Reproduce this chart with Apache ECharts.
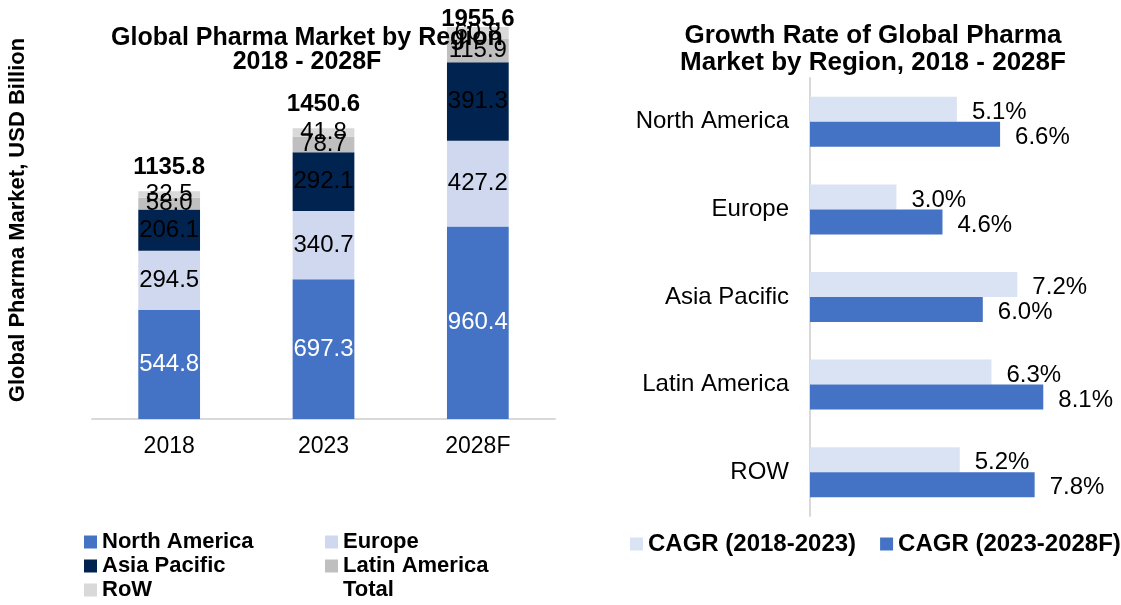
<!DOCTYPE html>
<html>
<head>
<meta charset="utf-8">
<script src="https://cdn.jsdelivr.net/npm/echarts@6/dist/echarts.min.js"></script>
<style>
html, body { margin: 0; padding: 0; background: #fff; }
#chart { width: 1121px; height: 605px; }
</style>
</head>
<body>
<div id="chart"></div>
<script>
// left chart: market size, USD billion
var years = ['2018', '2023', '2028F'];
var northAmerica = [544.8, 697.3, 960.4];
var europe = [294.5, 340.7, 427.2];
var asiaPacific = [206.1, 292.1, 391.3];
var latinAmerica = [58.0, 78.7, 115.9];
var restOfWorld = [32.5, 41.8, 60.8];
var totals = [1135.8, 1450.6, 1955.6];

// right chart: growth rate, %
var regions = ['North America', 'Europe', 'Asia Pacific', 'Latin America', 'ROW'];
var cagr2018to2023 = [5.1, 3.0, 7.2, 6.3, 5.2];
var cagr2023to2028 = [6.6, 4.6, 6.0, 8.1, 7.8];

var font = '"Liberation Sans", Arial, sans-serif';

function stackSeries(name, values, color, labelColor) {
    return {
        name: name,
        type: 'bar',
        stack: 'market',
        xAxisIndex: 0,
        yAxisIndex: 0,
        barWidth: '40%',
        data: values,
        itemStyle: { color: color },
        label: {
            show: true,
            position: 'inside',
            color: labelColor,
            fontSize: 24,
            fontFamily: font,
            formatter: function (p) { return p.value.toFixed(1); }
        }
    };
}

function cagrSeries(name, values, color) {
    return {
        name: name,
        type: 'bar',
        xAxisIndex: 1,
        yAxisIndex: 1,
        barWidth: 25,
        barGap: '0%',
        data: values,
        itemStyle: { color: color },
        label: {
            show: true,
            position: 'right',
            distance: 15,
            offset: [0, 3],
            color: '#000',
            fontSize: 24,
            fontFamily: font,
            formatter: function (p) { return p.value.toFixed(1) + '%'; }
        }
    };
}

var myChart = echarts.init(document.getElementById('chart'));

var option = {
    animation: false,
    textStyle: { fontFamily: font },
    title: [{
        text: 'Global Pharma Market by Region\n2018 - 2028F',
        left: 302,
        top: 21,
        textAlign: 'center',
        textStyle: { fontSize: 25, fontWeight: 'bold', color: '#000', lineHeight: 24, fontFamily: font }
    }, {
        text: 'Growth Rate of Global Pharma\nMarket by Region, 2018 - 2028F',
        left: 868,
        top: 17,
        textAlign: 'center',
        textStyle: { fontSize: 26, fontWeight: 'bold', color: '#000', lineHeight: 27, fontFamily: font }
    }],
    graphic: [{
        type: 'text',
        x: 18,
        y: 220,
        rotation: Math.PI / 2,
        style: {
            text: 'Global Pharma Market, USD Billion',
            fontSize: 22,
            fontWeight: 'bold',
            fontFamily: font,
            fill: '#000',
            align: 'center',
            verticalAlign: 'middle'
        }
    }],
    legend: [{
        orient: 'vertical',
        left: 84,
        top: 531,
        padding: 0,
        itemGap: 2,
        itemWidth: 13,
        itemHeight: 13,
        icon: 'rect',
        data: ['North America', 'Asia Pacific', 'RoW'],
        textStyle: { fontSize: 22, fontWeight: 'bold', color: '#000', lineHeight: 22 }
    }, {
        orient: 'vertical',
        left: 325,
        top: 531,
        padding: 0,
        itemGap: 2,
        itemWidth: 13,
        itemHeight: 13,
        icon: 'rect',
        data: ['Europe', 'Latin America', { name: 'Total', itemStyle: { opacity: 0 } }],
        textStyle: { fontSize: 22, fontWeight: 'bold', color: '#000', lineHeight: 22 }
    }, {
        orient: 'horizontal',
        left: 630,
        top: 532,
        padding: 0,
        itemGap: 24,
        itemWidth: 13,
        itemHeight: 13,
        icon: 'rect',
        data: ['CAGR (2018-2023)', 'CAGR (2023-2028F)'],
        textStyle: { fontSize: 24, fontWeight: 'bold', color: '#000', lineHeight: 24 }
    }],
    grid: [{
        left: 92,
        top: 18,
        width: 463,
        height: 401
    }, {
        left: 810,
        top: 78,
        width: 288,
        height: 438
    }],
    xAxis: [{
        gridIndex: 0,
        type: 'category',
        data: years,
        axisTick: { show: false },
        axisLine: { lineStyle: { color: '#D9D9D9', width: 2 } },
        axisLabel: { color: '#000', fontSize: 23, margin: 16 }
    }, {
        gridIndex: 1,
        type: 'value',
        min: 0,
        max: 10,
        show: false
    }],
    yAxis: [{
        gridIndex: 0,
        type: 'value',
        min: 0,
        max: 2000,
        show: false
    }, {
        gridIndex: 1,
        type: 'category',
        inverse: true,
        data: regions,
        axisTick: { show: false },
        axisLine: { lineStyle: { color: '#D9D9D9', width: 2 } },
        axisLabel: { color: '#000', fontSize: 24, margin: 21 }
    }],
    series: [
        stackSeries('North America', northAmerica, '#4472C4', '#fff'),
        stackSeries('Europe', europe, '#CFD8EE', '#000'),
        stackSeries('Asia Pacific', asiaPacific, '#002350', '#000'),
        stackSeries('Latin America', latinAmerica, '#BFBFBF', '#000'),
        stackSeries('RoW', restOfWorld, '#D9D9D9', '#000'),
        {
            name: 'Total',
            type: 'scatter',
            xAxisIndex: 0,
            yAxisIndex: 0,
            symbolSize: 1,
            itemStyle: { color: 'transparent', opacity: 1 },
            data: totals.map(function (v, i) {
                // last total sits close to the top edge, pull it down like the original
                return i === totals.length - 1 ? { value: v, label: { distance: -5 } } : v;
            }),
            label: {
                show: true,
                position: 'top',
                distance: 11,
                color: '#000',
                opacity: 1,
                fontSize: 24,
                fontWeight: 'bold',
                fontFamily: font,
                formatter: function (p) { return p.value.toFixed(1); }
            },
            z: 5
        },
        cagrSeries('CAGR (2018-2023)', cagr2018to2023, '#DAE3F3'),
        cagrSeries('CAGR (2023-2028F)', cagr2023to2028, '#4472C4')
    ]
};

myChart.setOption(option);
</script>
</body>
</html>
